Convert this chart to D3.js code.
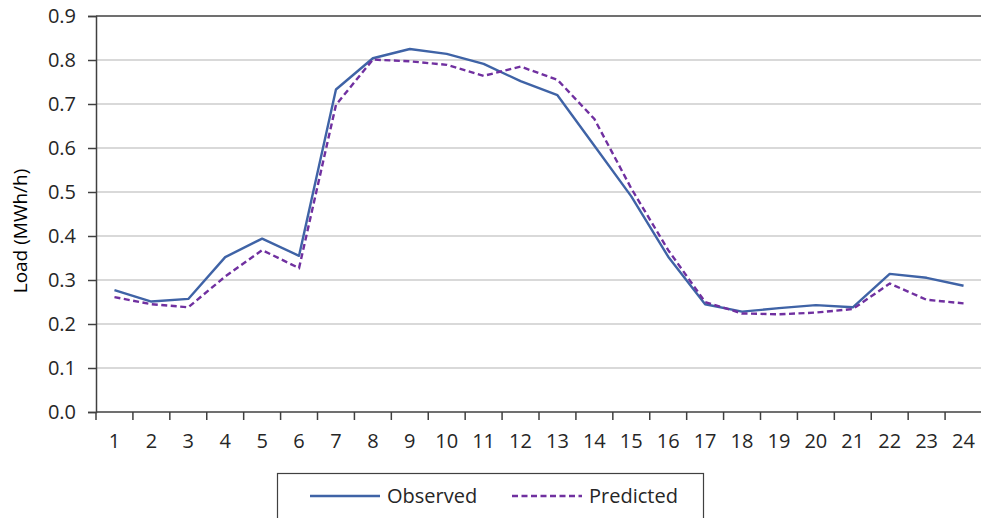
<!DOCTYPE html>
<html>
<head>
<meta charset="utf-8">
<script src="https://cdn.jsdelivr.net/npm/d3@7/dist/d3.min.js"></script>
<style>
  html, body { margin: 0; padding: 0; background: #fff; }
  svg { display: block; font-family: "Open Sans", "Noto Sans", sans-serif; }
</style>
</head>
<body>
<svg id="chart" width="981" height="518"></svg>
<script>
// Hourly load profile: observed vs. predicted (MWh/h)
const hours = d3.range(1, 25).map(String);
const observed = [0.277, 0.251, 0.257, 0.352, 0.394, 0.355, 0.733, 0.804, 0.825, 0.814, 0.791, 0.752,
                  0.720, 0.605, 0.490, 0.353, 0.245, 0.228, 0.236, 0.243, 0.238, 0.314, 0.305, 0.287];
const predicted = [0.261, 0.245, 0.238, 0.308, 0.368, 0.327, 0.698, 0.801, 0.797, 0.789, 0.764, 0.785,
                   0.755, 0.666, 0.508, 0.368, 0.250, 0.224, 0.222, 0.226, 0.234, 0.292, 0.255, 0.247];
const yTicks = [0, 0.1, 0.2, 0.3, 0.4, 0.5, 0.6, 0.7, 0.8, 0.9];
const seriesNames = ["Observed", "Predicted"];

const svg = d3.select("#chart");
const plotLeft = 96, plotRight = 982, plotTop = 16, plotBottom = 412;
const axisColor = "#404040";
const textColor = "#262626";

const x = d3.scaleBand().domain(hours).range([plotLeft, plotRight]).padding(0);
const y = d3.scaleLinear().domain([0, 0.9]).range([plotBottom, plotTop]);

// horizontal gridlines
svg.append("g").selectAll("line")
  .data(yTicks.filter(v => v > 0 && v < 0.9))
  .join("line")
  .attr("x1", plotLeft).attr("x2", plotRight)
  .attr("y1", d => y(d)).attr("y2", d => y(d))
  .attr("stroke", "#d9d9d9").attr("stroke-width", 2);

// top border
svg.append("line")
  .attr("x1", plotLeft).attr("x2", plotRight)
  .attr("y1", y(0.9)).attr("y2", y(0.9))
  .attr("stroke", axisColor).attr("stroke-width", 1.5);

// y axis
const yAxis = d3.axisLeft(y).tickValues(yTicks).tickFormat(d3.format(".1f")).tickSize(8).tickPadding(12);
const gy = svg.append("g").attr("transform", `translate(${plotLeft},0)`).call(yAxis);
gy.select(".domain").attr("stroke", axisColor).attr("stroke-width", 1.5);
gy.selectAll(".tick line").attr("stroke", axisColor).attr("stroke-width", 1.5);
gy.selectAll(".tick text").attr("fill", textColor).style("font-size", "20px").style("font-family", "Open Sans");

// x axis: labels centered in bands, tick marks at band boundaries
const xAxis = d3.axisBottom(x).tickSize(0).tickPadding(22);
const gx = svg.append("g").attr("transform", `translate(0,${plotBottom})`).call(xAxis);
gx.select(".domain").remove();
gx.selectAll(".tick text").attr("fill", textColor).style("font-size", "20px").style("font-family", "Open Sans");

svg.append("line")
  .attr("x1", plotLeft).attr("x2", plotRight)
  .attr("y1", plotBottom).attr("y2", plotBottom)
  .attr("stroke", axisColor).attr("stroke-width", 1.5);
const boundaries = hours.map(h => x(h)).concat([x(hours[hours.length - 1]) + x.bandwidth()]);
svg.append("g").selectAll("line")
  .data(boundaries)
  .join("line")
  .attr("x1", d => d).attr("x2", d => d)
  .attr("y1", plotBottom).attr("y2", plotBottom + 8)
  .attr("stroke", axisColor).attr("stroke-width", 1.5);

// y axis title
svg.append("text")
  .attr("transform", `translate(27,231) rotate(-90)`)
  .attr("text-anchor", "middle")
  .attr("fill", "#000")
  .style("font-size", "19px")
  .text("Load (MWh/h)");

// lines
const line = d3.line()
  .x((d, i) => x(hours[i]) + x.bandwidth() / 2)
  .y(d => y(d));

svg.append("path").datum(observed)
  .attr("fill", "none").attr("stroke", "#3f63a6").attr("stroke-width", 2.4)
  .attr("stroke-linejoin", "round")
  .attr("d", line);

svg.append("path").datum(predicted)
  .attr("fill", "none").attr("stroke", "#7030a0").attr("stroke-width", 2.4)
  .attr("stroke-dasharray", "6,3.5")
  .attr("d", line);

// legend
const legend = svg.append("g");
legend.append("rect")
  .attr("x", 277.5).attr("y", 473.5).attr("width", 426).attr("height", 60)
  .attr("fill", "#fff").attr("stroke", axisColor).attr("stroke-width", 1.2);
const legendItems = [
  { name: seriesNames[0], x1: 310, x2: 380, color: "#3f63a6", dash: null },
  { name: seriesNames[1], x1: 512, x2: 582, color: "#7030a0", dash: "6,3.5" }
];
legendItems.forEach(it => {
  legend.append("line")
    .attr("x1", it.x1).attr("x2", it.x2).attr("y1", 496).attr("y2", 496)
    .attr("stroke", it.color).attr("stroke-width", 2.4)
    .attr("stroke-dasharray", it.dash);
  legend.append("text")
    .attr("x", it.x2 + 7).attr("y", 496).attr("dy", "0.35em")
    .attr("fill", textColor).style("font-size", "20px")
    .text(it.name);
});
</script>
</body>
</html>
